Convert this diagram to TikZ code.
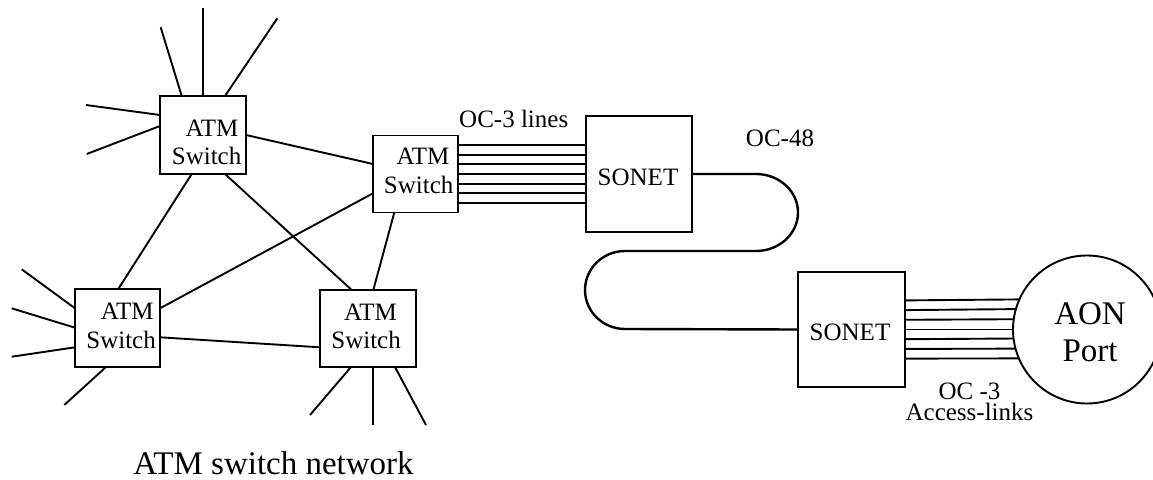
\documentclass[tikz,border=0pt]{standalone}
\usepackage{fontspec}
\setmainfont{Liberation Serif}
\begin{document}
\begin{tikzpicture}[x=1pt,y=-1pt,
  sw/.style={draw, line width=1.9pt, rectangle, inner sep=0pt, outer sep=0pt},
  lnk/.style={line width=1.9pt},
  lbl/.style={inner sep=0pt, font=\fontsize{25}{28}\selectfont},
  big/.style={inner sep=0pt, font=\fontsize{33}{37}\selectfont}]
\useasboundingbox (0,0) rectangle (1153,479);

% switches and boxes
\node[sw, minimum width=86pt, minimum height=78pt] (A) at (203,135) {};
\node[sw, minimum width=85pt, minimum height=77pt] (B) at (415.5,174) {};
\node[sw, minimum width=85pt, minimum height=78pt] (C) at (117.5,328) {};
\node[sw, minimum width=96pt, minimum height=77pt] (D) at (368,328.5) {};
\node[sw, minimum width=106pt, minimum height=116pt] (S1) at (639,174) {};
\node[sw, minimum width=107pt, minimum height=115pt] (S2) at (851.5,329.5) {};
\node[draw, circle, line width=1.9pt, minimum size=148pt, inner sep=0pt, outer sep=0pt] (AON) at (1087,329.5) {};

% switch labels
\node[lbl, anchor=base east] (A1) at (238.5,136) {ATM};
\node[lbl, anchor=base east] (A2) at (241.5,164.5) {Switch};
\node[lbl, anchor=base east] (B1) at (449.5,164) {ATM};
\node[lbl, anchor=base east] (B2) at (453.6,193.5) {Switch};
\node[lbl, anchor=base east] (C1) at (153.8,319.5) {ATM};
\node[lbl, anchor=base east] (C2) at (156,348) {Switch};
\node[lbl, anchor=base east] (D1) at (397,320) {ATM};
\node[lbl, anchor=base east] (D2) at (401,348) {Switch};
\node[lbl] (S1t) at (638,177) {SONET};
\node[lbl] (S2t) at (850,332) {SONET};
\node[big, anchor=base] (AON1) at (1090,324) {AON};
\node[big, anchor=base] (AON2) at (1090,361) {Port};

% other labels
\node[lbl, anchor=base west] (oc3) at (459,127) {OC-3 lines};
\node[lbl, anchor=base] (oc48) at (780,146) {OC-48};
\node[lbl, anchor=north, align=center, font=\fontsize{25}{21}\selectfont] (acc) at (969.5,382.5) {OC -3\\Access-links};
\node[big, anchor=base] (title) at (273.5,474) {ATM switch network};

% inter-switch links
\draw[lnk] (A.east) -- ([yshift=10pt]B.west);
\draw[lnk] ([xshift=-11.3pt]A.south) -- ([xshift=0.8pt]C.north);
\draw[lnk] ([xshift=22pt]A.south) -- ([xshift=-16.3pt]D.north);
\draw[lnk] ([yshift=19.7pt]C.east) -- ([yshift=-19.3pt]B.west);
\draw[lnk] ([yshift=-9.3pt]C.east) -- ([yshift=-18.8pt]D.west);
\draw[lnk] ([xshift=-21.2pt]B.south) -- ([xshift=5.3pt]D.north);

% spokes
\coordinate (a1) at (160.7,27.3);
\coordinate (a2) at (202.7,8.3);
\coordinate (a3) at (277.3,18.3);
\coordinate (a4) at (86,105);
\coordinate (a5) at (86.7,154);
\draw[lnk] ([xshift=-21.3pt]A.north) -- (a1);
\draw[lnk] ([xshift=-0.3pt]A.north) -- (a2);
\draw[lnk] ([xshift=22pt]A.north) -- (a3);
\draw[lnk] ([yshift=20pt]A.west) -- (a4);
\draw[lnk] ([yshift=9pt]A.west) -- (a5);
\coordinate (c1) at (21.7,269.3);
\coordinate (c2) at (11.7,308.3);
\coordinate (c3) at (11.7,356.7);
\coordinate (c4) at (64.3,405);
\draw[lnk] ([yshift=19.7pt]C.west) -- (c1);
\draw[lnk] ([yshift=0.3pt]C.west) -- (c2);
\draw[lnk] ([yshift=-19.3pt]C.west) -- (c3);
\draw[lnk] ([xshift=-11.5pt]C.south) -- (c4);
\coordinate (d1) at (310,415);
\coordinate (d2) at (372.7,425);
\coordinate (d3) at (426,425);
\draw[lnk] ([xshift=-17pt]D.south) -- (d1);
\draw[lnk] ([xshift=4.7pt]D.south) -- (d2);
\draw[lnk] ([xshift=27pt]D.south) -- (d3);

% OC-3 lines
\foreach \s in {-29.1,-19.4,-9.7,0,9.7,19.4,29.1}
  \draw[lnk] ([yshift=\s pt]B.east) -- ([yshift=\s pt]S1.west);

% OC-48
\draw[line width=2.4pt] (S1.east) -- (756,174)
  arc[start angle=-90, end angle=90, x radius=42, y radius=38.5] -- (625,251)
  arc[start angle=-90, end angle=-270, x radius=40, y radius=39] -- (S2.west);

% access links
\foreach \s in {-29.1,-19.4,-9.7,0,9.7,19.4,29.1} {
  \pgfmathsetmacro\ang{180-asin(\s/74)}
  \draw[lnk] ([yshift=\s pt]S2.east) -- (AON.\ang);
}
\end{tikzpicture}
\end{document}
